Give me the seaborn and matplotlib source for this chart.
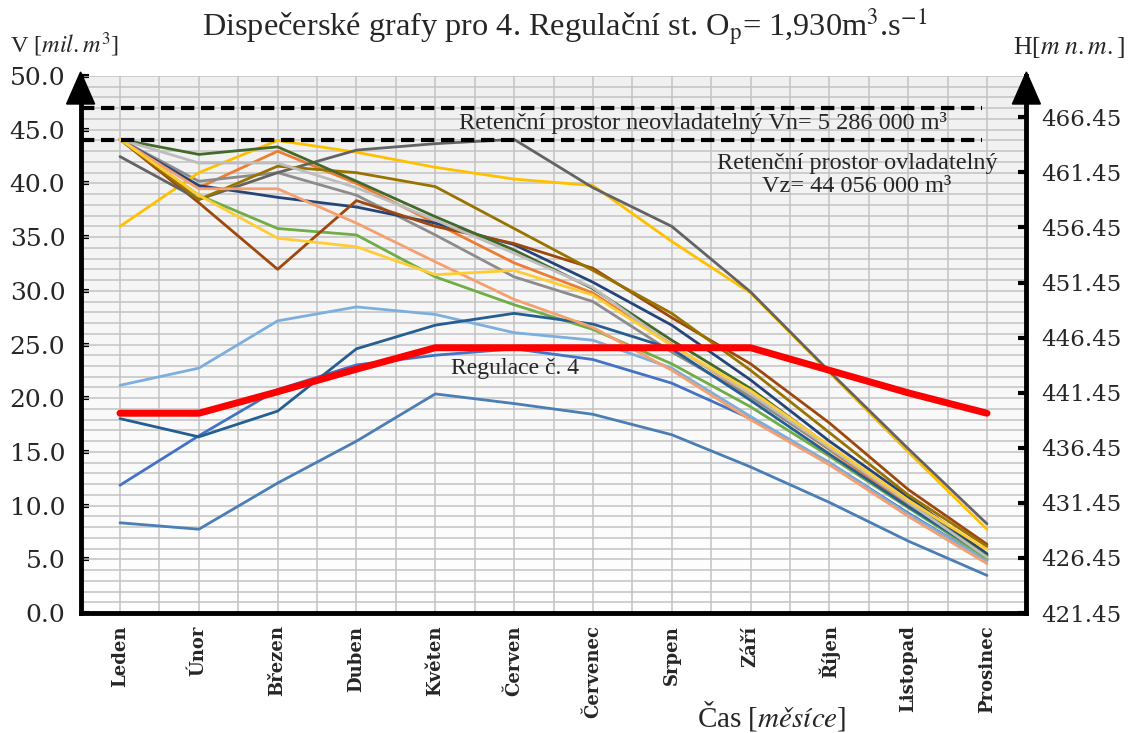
import numpy as np
import pandas as pd
import matplotlib
matplotlib.use("Agg")
import matplotlib.pyplot as plt
import seaborn as sns
from matplotlib.patches import Polygon

# --- data -------------------------------------------------------------
months = ["Leden", "Únor", "Březen", "Duben", "Květen", "Červen",
          "Červenec", "Srpen", "Září", "Říjen", "Listopad", "Prosinec"]

# storage volume V [mil. m3] at the start of each month, one list per year
r01 = [11.9, 16.5, 20.8, 23.1, 24.0, 24.6, 23.6, 21.4, 18.1, 14.0, 9.3, 4.9]
r02 = [44.1, 39.6, 43.0, 40.0, 36.3, 32.6, 29.8, 25.0, 20.2, 15.2, 10.0, 5.0]
r03 = [44.1, 40.2, 41.0, 38.9, 35.2, 31.3, 29.0, 24.3, 20.1, 15.3, 10.4, 5.5]
r04 = [36.0, 41.0, 44.0, 42.9, 41.5, 40.4, 39.8, 34.6, 29.8, 22.4, 15.0, 7.8]
r05 = [21.2, 22.8, 27.2, 28.5, 27.8, 26.1, 25.4, 22.8, 18.3, 14.0, 9.2, 4.9]
r06 = [44.1, 38.9, 35.8, 35.2, 31.3, 28.7, 26.4, 23.2, 19.2, 14.6, 9.8, 5.1]
r07 = [44.1, 39.8, 38.7, 37.8, 36.3, 34.3, 30.8, 26.8, 21.7, 16.0, 10.8, 5.5]
r08 = [44.1, 38.2, 32.0, 38.4, 36.0, 34.4, 32.1, 27.5, 23.2, 17.7, 11.5, 6.4]
r09 = [42.5, 38.5, 41.0, 43.1, 43.7, 44.1, 39.6, 36.0, 29.9, 22.5, 15.3, 8.3]
r10 = [44.1, 38.5, 41.6, 41.0, 39.7, 35.8, 31.9, 27.9, 22.6, 16.8, 11.0, 6.2]
r11 = [18.1, 16.4, 18.8, 24.6, 26.8, 27.9, 26.9, 24.6, 19.8, 14.8, 9.9, 5.3]
r12 = [44.1, 42.7, 43.4, 40.2, 36.9, 33.8, 30.2, 25.4, 20.9, 15.5, 10.3, 5.3]
r13 = [44.1, 39.5, 39.5, 36.3, 32.7, 29.2, 26.6, 22.6, 18.0, 13.8, 9.0, 4.6]
r14 = [44.1, 41.9, 41.9, 39.6, 36.6, 33.5, 30.3, 24.9, 20.4, 15.4, 10.3, 5.2]
r15 = [44.1, 38.9, 34.9, 34.1, 31.5, 31.9, 29.6, 24.9, 20.7, 15.6, 10.5, 5.9]
r16 = [8.4, 7.8, 12.1, 16.0, 20.4, 19.5, 18.5, 16.6, 13.6, 10.3, 6.7, 3.5]

regulace = [18.6, 18.6, 20.6, 22.7, 24.7, 24.7, 24.7, 24.7, 24.7, 22.6, 20.5, 18.6]

rady = [r01, r02, r03, r04, r05, r06, r07, r08,
        r09, r10, r11, r12, r13, r14, r15, r16]
barvy = ["#4472C4", "#ED7D31", "#8C8C8C", "#FFC000", "#7CAFDD", "#70AD47",
         "#264478", "#9E480E", "#636363", "#997300", "#255E91", "#43682B",
         "#F4A070", "#BDBDBD", "#FFCD33", "#4A7EB4"]

v_neovl = 47.0      # upper limit of the uncontrolled retention space
v_ovl = 44.056      # upper limit of the controlled retention space

h_ticks = [421.45, 426.45, 431.45, 436.45, 441.45, 446.45,
           451.45, 456.45, 461.45, 466.45]

# --- long-form table ------------------------------------------------------
rows = []
for i, vals in enumerate(rady):
    for m, v in enumerate(vals):
        rows.append({"mesic": m, "V": v, "rada": f"r{i + 1:02d}"})
df = pd.DataFrame(rows)
df_reg = pd.DataFrame({"mesic": range(len(months)), "V": regulace})

# --- figure ---------------------------------------------------------------
sns.set_style("white")
plt.rcParams["font.family"] = ["Liberation Serif", "DejaVu Serif"]
plt.rcParams["mathtext.fontset"] = "stix"

W, H = 1131, 733
fig = plt.figure(figsize=(W / 100, H / 100), dpi=100)
L, R, T, B = 80.6, 1026.4, 76.0, 613.0
ax = fig.add_axes([L / W, 1 - B / H, (R - L) / W, (B - T) / H])

# plot-area background: white fading to light grey at the bottom
grad = np.linspace(1.0, 0.0, 256).reshape(-1, 1)
ax.imshow(grad, extent=[-0.5, 11.5, 0, 50], aspect="auto",
          cmap=matplotlib.colors.LinearSegmentedColormap.from_list(
              "bg", ["#F0F0F0", "#FFFFFF"]), zorder=0, origin="lower")

# grid: every 1 mil. m3 horizontally, month centres and borders vertically
for y in range(0, 51):
    ax.axhline(y, color="#C3C3C3", lw=1.1, zorder=1)
for x in np.arange(-0.5, 11.6, 0.5):
    ax.axvline(x, color="#C3C3C3", lw=1.1, zorder=1)

sns.lineplot(data=df, x="mesic", y="V", hue="rada", palette=barvy,
             legend=False, lw=2.0, ax=ax, zorder=3, sort=False)
sns.lineplot(data=df_reg, x="mesic", y="V", color="#FF0000", lw=5.0,
             ax=ax, zorder=4, sort=False)

# retention-space limits
ax.axhline(v_neovl, xmin=0.0, xmax=0.953, color="black", lw=3.0,
           dashes=(3.2, 1.6), zorder=5)
ax.axhline(v_ovl, xmin=0.0, xmax=0.953, color="black", lw=3.0,
           dashes=(3.2, 1.6), zorder=5)

ax.set_xlim(-0.5, 11.5)
ax.set_ylim(0, 50)
ax.set_xlabel("")
ax.set_ylabel("")

ax.set_xticks(range(len(months)))
ax.set_xticklabels(months, rotation=90, fontsize=13, fontweight="bold",
                   family="DejaVu Serif", va="top", ha="center")
ax.set_xticks(np.arange(0.5, 11, 1), minor=True)
ax.tick_params(axis="x", which="major", length=0, pad=9)
ax.tick_params(axis="x", which="minor", direction="in", length=6,
               width=3, color="black")

ax.set_yticks(np.arange(0, 51, 5))
ax.set_yticklabels([f"{v:.1f}" for v in np.arange(0, 51, 5)],
                   family="DejaVu Serif", fontsize=18)
ax.tick_params(axis="y", direction="in", length=6, width=3, color="black",
               pad=11)

for s in ["top", "right"]:
    ax.spines[s].set_visible(False)
for s in ["left", "bottom"]:
    ax.spines[s].set_linewidth(3.5)
    ax.spines[s].set_color("black")
    ax.spines[s].set_zorder(6)

# secondary axis: water level H [m n.m.]
ax2 = ax.twinx()
ax2.set_ylim(421.45, 470.2)
ax2.set_yticks(h_ticks)
ax2.set_yticklabels([f"{h:.2f}" for h in h_ticks],
                    family="DejaVu Serif", fontsize=16.5)
ax2.tick_params(axis="y", direction="in", length=6, width=3, color="black",
                pad=11)
for s in ["top", "left", "bottom"]:
    ax2.spines[s].set_visible(False)
ax2.spines["right"].set_linewidth(3.5)
ax2.spines["right"].set_color("black")
ax2.grid(False)

# arrow heads on both vertical axes
def arrow_head(xpx):
    tip = (xpx / W, 1 - 72 / H)
    bl = ((xpx - 14) / W, 1 - 104 / H)
    br = ((xpx + 14) / W, 1 - 104 / H)
    fig.patches.append(Polygon([tip, bl, br], closed=True, color="black",
                               transform=fig.transFigure, zorder=10))

arrow_head(L)
arrow_head(R)

# annotations
ax.text(7.39, 45.6, "Retenční prostor neovladatelný Vn= 5 286 000 m³",
        ha="center", va="center", fontsize=17.5, zorder=7)
ax.text(9.35, 40.8, "Retenční prostor ovladatelný\nVz= 44 056 000 m³",
        ha="center", va="center", fontsize=17.5, linespacing=1.1, zorder=7)
ax.text(5.01, 22.8, "Regulace č. 4", ha="center", va="center",
        fontsize=17, zorder=7)

# titles and axis captions
fig.text(0.4996, 0.964,
         r"Dispečerské grafy pro 4. Regulační st. O$_\mathrm{p}$= 1,930m$^3$.s$^{-1}$",
         ha="center", va="center", fontsize=23.3)
fig.text(10 / W, 1 - 45 / H, r"V [$\mathit{mil.m^3}$]", ha="left",
         va="center", fontsize=17.5)
fig.text(1125 / W, 1 - 47 / H, r"H[$\mathit{m\ n.m.}$]", ha="right",
         va="center", fontsize=18.5)
fig.text(772 / W, 1 - 716 / H, r"Čas [$\mathit{měsíce}$]", ha="center",
         va="center", fontsize=21)

fig.savefig("out.png", dpi=100)
